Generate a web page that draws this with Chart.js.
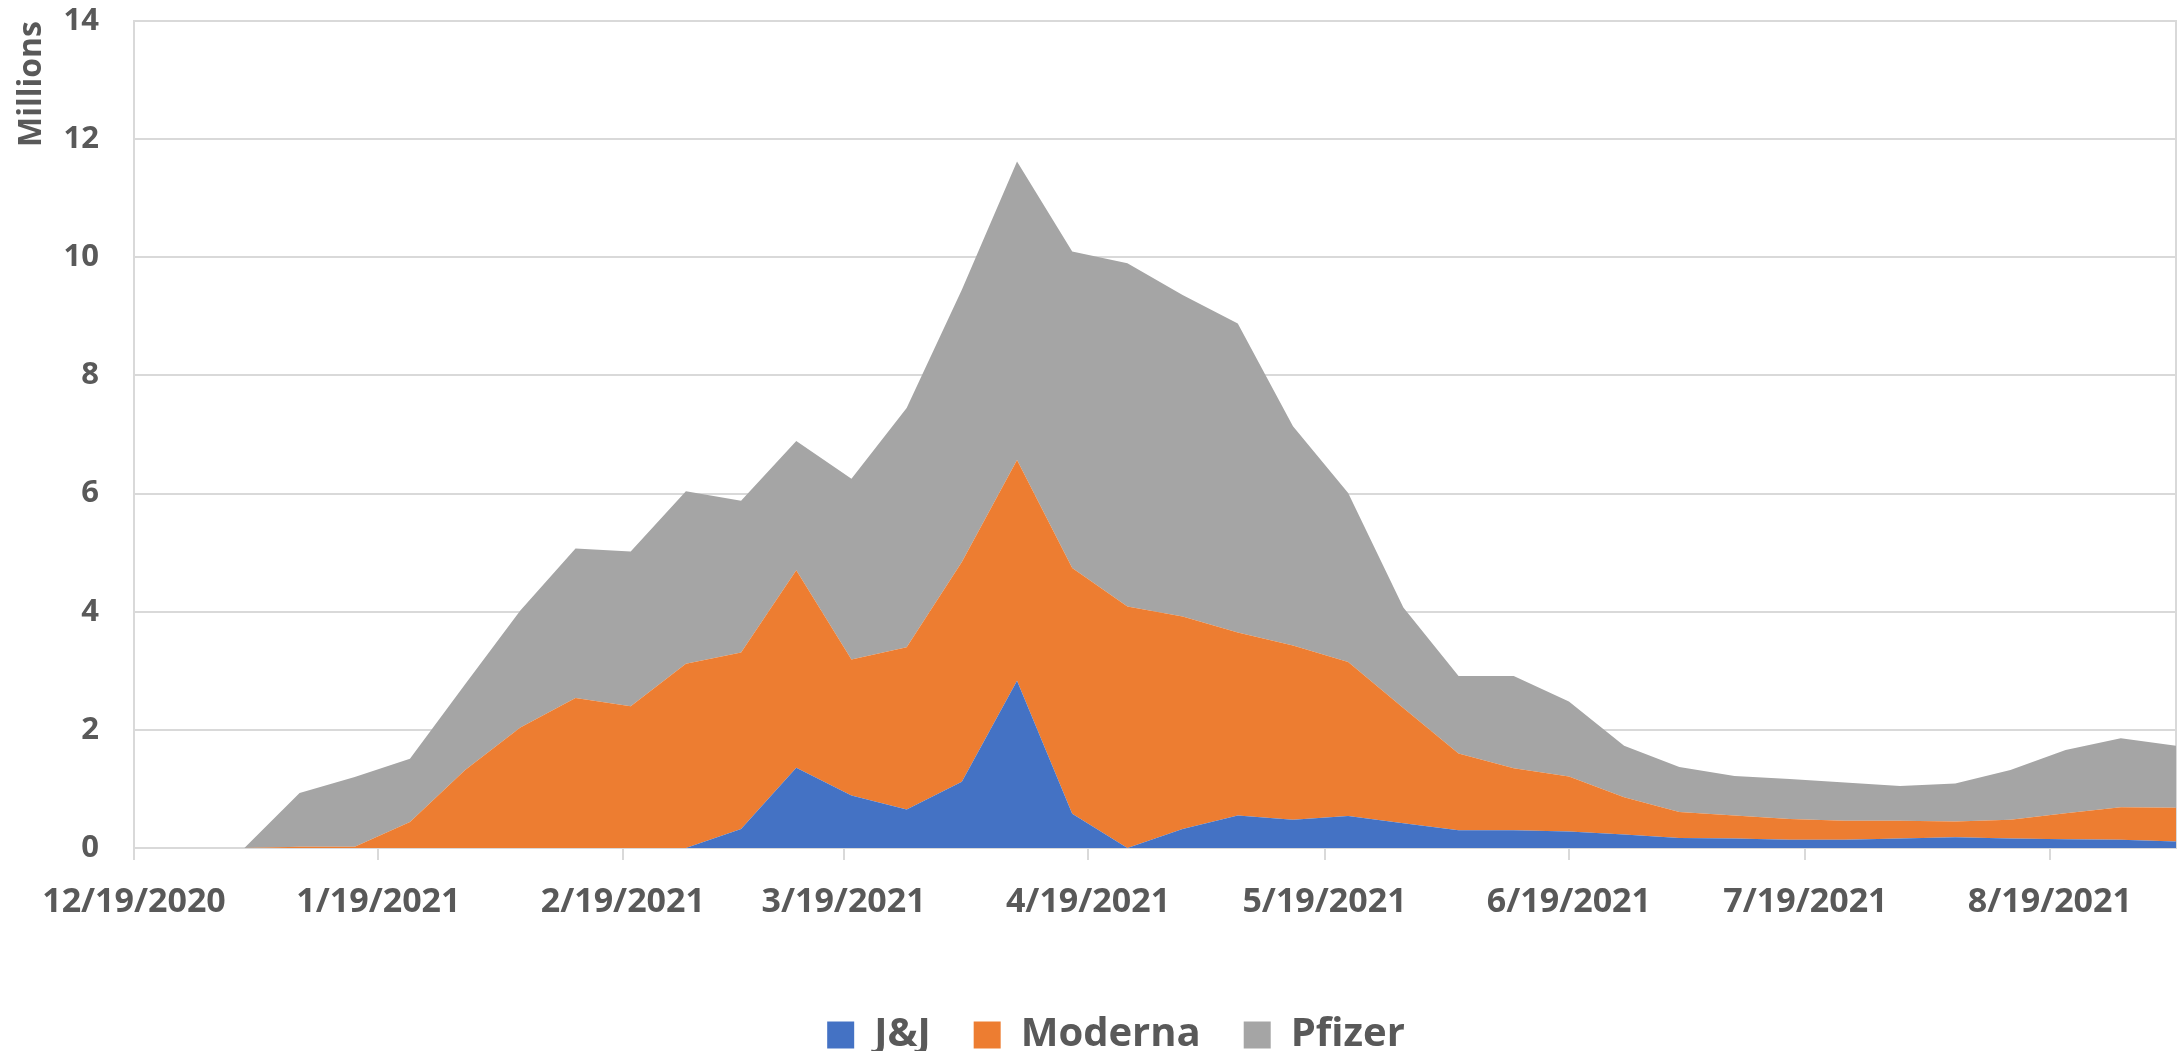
<!DOCTYPE html>
<html>
<head>
<meta charset="utf-8">
<script src="https://cdn.jsdelivr.net/npm/chart.js@4/dist/chart.umd.min.js"></script>
<style>
  html, body { margin: 0; padding: 0; background: #fff; }
  #wrap { width: 2183px; height: 1051px; position: relative; }
</style>
</head>
<body>
<div id="wrap"><canvas id="chart"></canvas></div>
<script>
// weekly dates (x), values in millions
const weeks = ["12/19/2020", "12/26/2020", "1/2/2021", "1/9/2021", "1/16/2021", "1/23/2021", "1/30/2021",
  "2/6/2021", "2/13/2021", "2/20/2021", "2/27/2021", "3/6/2021", "3/13/2021", "3/20/2021", "3/27/2021",
  "4/3/2021", "4/10/2021", "4/17/2021", "4/24/2021", "5/1/2021", "5/8/2021", "5/15/2021", "5/22/2021",
  "5/29/2021", "6/5/2021", "6/12/2021", "6/19/2021", "6/26/2021", "7/3/2021", "7/10/2021", "7/17/2021",
  "7/24/2021", "7/31/2021", "8/7/2021", "8/14/2021", "8/21/2021", "8/28/2021", "9/4/2021"];
const jnj = [0, 0, 0, 0, 0, 0, 0, 0, 0, 0, 0, 0.32, 1.36, 0.89, 0.65, 1.12, 2.83, 0.58, 0, 0.32, 0.55, 0.48,
  0.54, 0.42, 0.30, 0.30, 0.28, 0.23, 0.17, 0.16, 0.14, 0.14, 0.16, 0.18, 0.16, 0.15, 0.14, 0.11];
const moderna = [0, 0, 0, 0.02, 0.02, 0.44, 1.32, 2.04, 2.54, 2.40, 3.12, 2.99, 3.34, 2.30, 2.75, 3.72, 3.74,
  4.16, 4.09, 3.60, 3.10, 2.95, 2.61, 1.95, 1.30, 1.05, 0.93, 0.63, 0.44, 0.39, 0.35, 0.32, 0.30, 0.27, 0.32,
  0.44, 0.55, 0.57];
const pfizer = [0, 0, 0, 0.91, 1.18, 1.07, 1.45, 1.98, 2.53, 2.62, 2.92, 2.57, 2.19, 3.06, 4.05, 4.61, 5.05,
  5.36, 5.81, 5.44, 5.23, 3.71, 2.86, 1.70, 1.31, 1.56, 1.27, 0.87, 0.76, 0.67, 0.68, 0.65, 0.59, 0.64, 0.84,
  1.07, 1.17, 1.05];
const tickDates = ["12/19/2020", "1/19/2021", "2/19/2021", "3/19/2021", "4/19/2021", "5/19/2021",
  "6/19/2021", "7/19/2021", "8/19/2021"];

function dayOf(s) {
  const [m, d, y] = s.split("/").map(Number);
  return Math.round((Date.UTC(y, m - 1, d) - Date.UTC(2020, 11, 19)) / 86400000);
}

const pts = arr => weeks.map((w, i) => ({ x: dayOf(w), y: arr[i] }));
const tickDays = tickDates.map(dayOf);
const gray = "#595959";
const gridCol = "#d9d9d9";
const fam = "'Open Sans', 'DejaVu Sans', sans-serif";

new Chart(document.getElementById("chart"), {
  type: "line",
  data: {
    datasets: [
      { label: "J&J", data: pts(jnj), backgroundColor: "#4472C4", borderColor: "#4472C4", fill: "origin" },
      { label: "Moderna", data: pts(moderna), backgroundColor: "#ED7D31", borderColor: "#ED7D31", fill: "-1" },
      { label: "Pfizer", data: pts(pfizer), backgroundColor: "#A5A5A5", borderColor: "#A5A5A5", fill: "-1" }
    ]
  },
  options: {
    responsive: true,
    maintainAspectRatio: false,
    animation: false,
    elements: { point: { radius: 0 }, line: { borderWidth: 0, tension: 0 } },
    layout: { padding: { left: 56, right: 7, top: 21, bottom: -14 } },
    plugins: {
      tooltip: { enabled: false },
      legend: {
        position: "bottom",
        labels: {
          color: gray,
          font: { family: fam, size: 40, weight: "bold" },
          boxWidth: 27, boxHeight: 27,
          padding: 43
        }
      }
    },
    scales: {
      x: {
        type: "linear",
        min: 0,
        max: dayOf(weeks[weeks.length - 1]),
        afterBuildTicks: s => { s.ticks = tickDays.map(v => ({ value: v })); },
        afterFit: s => { s.height = 124; },
        ticks: {
          autoSkip: false, maxRotation: 0, padding: 22,
          color: gray,
          font: { family: fam, size: 34, weight: "bold" },
          callback: v => tickDates[tickDays.indexOf(v)]
        },
        grid: { drawOnChartArea: false, drawTicks: true, tickLength: 12, color: gridCol, lineWidth: 2 },
        border: { color: gridCol, width: 2 }
      },
      y: {
        stacked: true,
        min: 0, max: 14,
        afterFit: s => { s.width = 78; },
        ticks: {
          stepSize: 2, padding: 0,
          color: gray,
          font: { family: fam, size: 31, weight: "bold" }
        },
        grid: { color: gridCol, lineWidth: 2, drawTicks: true, tickLength: 35, tickColor: "rgba(0,0,0,0)" },
        border: { color: gridCol, width: 2 },
        title: {
          display: true, text: "Millions", align: "end",
          color: gray,
          font: { family: fam, size: 32, weight: "bold" },
          padding: { top: -43, bottom: 0 }
        }
      },
      y2: {
        position: "right",
        min: 0, max: 14,
        ticks: { display: false },
        grid: { display: false, drawTicks: false },
        border: { color: gridCol, width: 2 }
      }
    }
  }
});
</script>
</body>
</html>
